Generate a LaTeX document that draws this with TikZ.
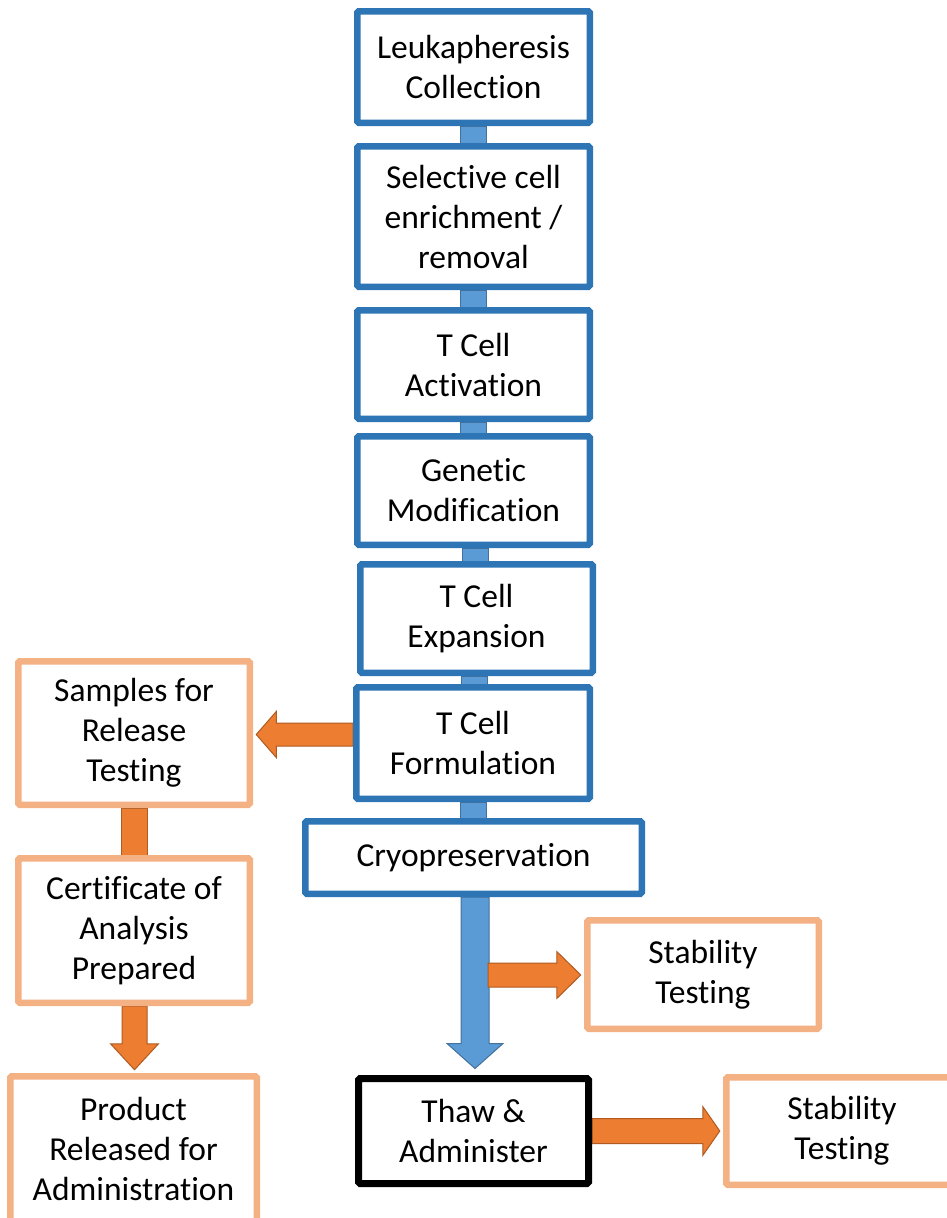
\documentclass[tikz,border=0pt]{standalone}
\usepackage{fontspec}
\setmainfont{Carlito}[Ligatures=NoCommon]
\usetikzlibrary{calc,backgrounds}
\definecolor{bluebd}{HTML}{2E75B6}
\definecolor{bluefill}{HTML}{5B9BD5}
\definecolor{bluedark}{HTML}{41719C}
\definecolor{orfill}{HTML}{ED7D31}
\definecolor{ordark}{HTML}{AE5A21}
\definecolor{orbd}{HTML}{F4B183}
% vertical bar between two nodes
\newcommand\vbar[3]{\path[#1] let \p1=(#2.south), \p2=(#3.north) in ({(\x1+\x2)/2-13pt},\y1) rectangle ({(\x1+\x2)/2+13pt},\y2);}
% down block arrow: style, start, tip, shaft half width, head half width, head length
\newcommand\dnblock[6]{\path[#1] let \p1=(#2), \p2=(#3) in (\x2-#4,\y1) -- (\x2+#4,\y1) -- (\x2+#4,\y2+#6) -- (\x2+#5,\y2+#6) -- (\x2,\y2) -- (\x2-#5,\y2+#6) -- (\x2-#4,\y2+#6) -- cycle;}
% right block arrow
\newcommand\rtblock[6]{\path[#1] let \p1=(#2), \p2=(#3) in (\x1,\y2+#4) -- (\x2-#6,\y2+#4) -- (\x2-#6,\y2+#5) -- (\x2,\y2) -- (\x2-#6,\y2-#5) -- (\x2-#6,\y2-#4) -- (\x1,\y2-#4) -- cycle;}
% left block arrow
\newcommand\ltblock[6]{\path[#1] let \p1=(#2), \p2=(#3) in (\x1,\y2+#4) -- (\x2+#6,\y2+#4) -- (\x2+#6,\y2+#5) -- (\x2,\y2) -- (\x2+#6,\y2-#5) -- (\x2+#6,\y2-#4) -- (\x1,\y2-#4) -- cycle;}
\begin{document}
\begin{tikzpicture}[x=1pt,y=-1pt,
  box/.style={draw, line width=6.5pt, fill=white, align=center, inner sep=0pt,
    font=\fontsize{33.5}{40}\selectfont, rounded corners=1.5pt},
  bluebox/.style={box, draw=bluebd},
  orbox/.style={box, draw=orbd},
  blkbox/.style={box, draw=black, line width=7pt},
  bluebar/.style={fill=bluefill, draw=bluedark, line width=1pt},
  orbar/.style={fill=orfill, draw=ordark, line width=1pt},
  orarrow/.style={fill=orfill, draw=ordark, line width=1pt, line join=miter}]
\useasboundingbox (0,0) rectangle (947,1218);

% main column
\node[bluebox, minimum width=232.5pt, minimum height=111.5pt] (leuk) at (473.5,67) {Leukapheresis\\Collection};
\node[bluebox, minimum width=232.5pt, minimum height=140.5pt] (sel) at (473.5,216.5) {Selective cell\\enrichment /\\removal};
\node[bluebox, minimum width=232.5pt, minimum height=108.5pt] (act) at (473.5,364.5) {T Cell\\Activation};
\node[bluebox, minimum width=232.5pt, minimum height=108.5pt] (gen) at (473.5,490.5) {Genetic\\Modification};
\node[bluebox, minimum width=232.5pt, minimum height=108.5pt] (exp) at (476.5,618.5) {T Cell\\Expansion};
\node[bluebox, minimum width=233.5pt, minimum height=111.5pt] (form) at (473,743) {T Cell\\Formulation};
\node[bluebox, minimum width=336.5pt, minimum height=72.5pt] (cryo) at (473.5,857.5) {Cryopreservation};
\node[blkbox, minimum width=230pt, minimum height=105pt] (thaw) at (473.5,1131) {Thaw \&\\Administer};

% side boxes
\node[orbox, minimum width=231.5pt, minimum height=108.5pt] (stab1) at (703,974.5) {Stability\\Testing};
\node[orbox, minimum width=231.5pt, minimum height=107.5pt] (stab2) at (842,1131) {Stability\\Testing};
\node[orbox, minimum width=231.5pt, minimum height=143.5pt] (samp) at (134,733) {Samples for\\Release\\Testing};
\node[orbox, minimum width=231.5pt, minimum height=144.5pt] (cert) at (134,930.5) {Certificate of\\Analysis\\Prepared};
\node[orbox, minimum width=246.5pt, minimum height=145.5pt] (prod) at (133.5,1149) {Product\\Released for\\Administration};

\coordinate (bt) at ($(cryo.south |- thaw.north)+(1.5,-6.5)$);
\coordinate (bs) at ($(cryo.south)+(1.5,0)$);

\begin{scope}[on background layer]
  \vbar{bluebar}{leuk}{sel}
  \vbar{bluebar}{sel}{act}
  \vbar{bluebar}{act}{gen}
  \vbar{bluebar}{gen}{exp}
  \vbar{bluebar}{exp}{form}
  \vbar{bluebar}{form}{cryo}
  \vbar{orbar}{samp}{cert}
  % big blue arrow to thaw
  \dnblock{bluebar}{bs}{bt}{14pt}{28pt}{25pt}
  % orange arrows
  \coordinate (o1s) at ($(bt)+(13,0)$);
  \coordinate (o1t) at ($(stab1.west)+(-3.25,0.5)$);
  \rtblock{orarrow}{o1s}{o1t}{12pt}{23.5pt}{24pt}
  \coordinate (o2t) at ($(stab2.west)+(-3.25,0)$);
  \rtblock{orarrow}{thaw.east}{o2t}{12.5pt}{24.5pt}{17pt}
  \coordinate (o3t) at ($(samp.east)+(3.25,1.5)$);
  \ltblock{orarrow}{form.west}{o3t}{11.5pt}{23pt}{20pt}
  \coordinate (o4t) at ($(prod.north)+(1,-3.25)$);
  \dnblock{orarrow}{cert.south}{o4t}{12.5pt}{24pt}{26pt}
\end{scope}
\end{tikzpicture}
\end{document}
